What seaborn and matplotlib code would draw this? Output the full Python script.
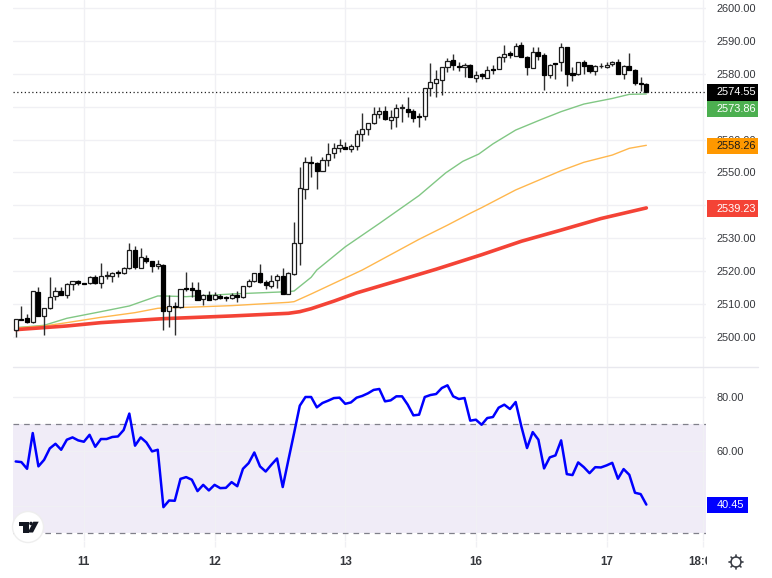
import math
import matplotlib
matplotlib.use("Agg")
import matplotlib.pyplot as plt
from matplotlib.patches import Rectangle, Circle, Polygon
import pandas as pd
import seaborn as sns

open_ = [2502.03,2505.57,2505.67,2504.46,2513.78,2506.49,2508.72,2512.46,2513.98,2512.87,
         2516.11,2516.92,2516.31,2516.31,2518.34,2516.31,2518.54,2518.64,2519.66,2519.35,
         2520.87,2526.44,2521.07,2524.11,2523.00,2521.48,2521.88,2508.00,2509.52,2509.02,
         2515.00,2514.90,2514.29,2511.45,2512.87,2511.45,2512.56,2512.16,2511.96,2512.77,
         2512.06,2515.50,2516.92,2519.35,2516.72,2515.60,2517.22,2518.64,2513.17,2519.15,
         2528.48,2544.89,2553.20,2552.99,2550.56,2553.80,2555.83,2557.45,2557.85,2557.14,
         2558.16,2561.60,2563.12,2564.95,2567.68,2568.59,2566.06,2566.97,2569.61,2569.40,
         2568.69,2567.18,2567.28,2575.60,2577.10,2578.11,2581.96,2584.19,2582.47,2581.96,
         2582.67,2578.62,2579.84,2578.83,2581.56,2581.46,2585.11,2586.42,2585.51,2588.75,
         2585.21,2581.87,2586.73,2585.61,2579.74,2583.28,2583.48,2588.14,2580.14,2579.94,
         2583.48,2582.57,2580.85,2582.27,2581.96,2582.98,2583.59,2580.04,2582.37,2581.26,
         2577.30,2576.90]
high = [2505.60,2509.42,2506.89,2513.90,2515.30,2508.85,2518.14,2515.10,2515.30,2516.31,
        2517.12,2517.33,2516.50,2518.54,2518.95,2522.59,2520.06,2519.86,2520.37,2521.38,
        2528.67,2527.66,2526.95,2524.82,2523.20,2523.40,2522.09,2512.77,2510.74,2514.60,
        2519.86,2516.62,2516.62,2513.07,2513.98,2513.78,2513.07,2512.46,2513.48,2514.08,
        2515.50,2517.53,2519.55,2522.19,2517.33,2518.95,2519.05,2520.87,2519.86,2535.06,
        2551.57,2554.80,2555.00,2553.30,2554.61,2558.87,2558.87,2560.08,2559.38,2558.57,
        2562.92,2567.99,2565.15,2570.01,2570.01,2570.21,2568.99,2570.82,2570.82,2572.85,
        2569.20,2567.99,2575.80,2583.18,2581.15,2582.17,2584.70,2585.91,2583.69,2583.18,
        2582.87,2580.95,2580.35,2582.37,2582.68,2585.51,2588.75,2586.93,2589.26,2589.56,
        2585.41,2588.25,2588.25,2586.42,2582.98,2583.38,2589.26,2588.25,2582.17,2583.69,
        2584.19,2582.68,2582.68,2583.38,2583.48,2583.89,2584.40,2582.68,2586.22,2581.36,
        2578.93,2577.10]
low = [2500.10,2505.17,2504.36,2504.40,2506.40,2500.61,2508.41,2511.25,2512.77,2511.96,
       2514.29,2515.80,2516.00,2516.11,2516.21,2514.79,2517.53,2516.82,2518.34,2519.15,
       2520.67,2520.67,2520.87,2522.39,2519.66,2520.57,2502.13,2502.94,2500.61,2508.82,
       2514.08,2512.06,2511.15,2509.63,2511.25,2511.25,2511.55,2511.05,2511.65,2510.74,
       2511.96,2515.30,2516.72,2516.52,2514.59,2514.79,2514.79,2513.07,2512.97,2518.85,
       2521.90,2541.85,2548.74,2545.09,2550.36,2551.98,2554.51,2556.33,2557.14,2556.33,
       2556.84,2559.68,2561.40,2564.64,2566.67,2565.96,2563.12,2563.73,2565.45,2566.77,
       2565.45,2563.73,2565.96,2573.25,2573.05,2573.55,2580.65,2581.15,2580.85,2578.93,
       2579.03,2577.61,2578.32,2578.62,2579.84,2581.36,2583.69,2584.90,2585.41,2585.11,
       2579.74,2581.66,2584.19,2575.08,2578.83,2578.52,2580.95,2576.29,2577.91,2579.74,
       2579.94,2580.35,2579.74,2581.76,2581.86,2582.47,2579.94,2578.52,2581.06,2576.60,
       2574.88,2574.50]
close = [2505.57,2505.27,2504.46,2513.88,2506.49,2508.82,2512.26,2513.98,2512.87,2516.11,
         2516.92,2516.52,2516.11,2518.34,2516.31,2518.64,2518.85,2519.35,2519.35,2520.87,
         2526.34,2521.17,2524.21,2523.00,2521.48,2522.09,2508.00,2509.32,2509.12,2514.59,
         2514.59,2514.39,2511.25,2512.77,2511.35,2512.67,2511.75,2511.86,2512.87,2512.06,
         2515.50,2516.92,2519.35,2516.62,2515.80,2517.12,2518.64,2513.17,2519.35,2528.47,
         2545.19,2553.30,2552.89,2550.56,2553.80,2555.52,2557.55,2558.46,2557.25,2558.16,
         2561.60,2563.12,2565.05,2567.68,2568.59,2566.36,2566.77,2569.71,2569.81,2568.49,
         2566.67,2566.97,2575.80,2577.41,2578.32,2582.07,2583.99,2582.67,2582.17,2582.67,
         2579.13,2579.74,2579.23,2581.16,2581.26,2585.21,2586.12,2585.82,2588.45,2585.21,
         2582.07,2586.73,2585.51,2579.74,2582.57,2582.98,2588.04,2580.04,2579.74,2583.48,
         2582.37,2580.75,2582.27,2582.47,2582.68,2583.59,2580.04,2582.37,2581.16,2577.10,
         2577.00,2574.55]

green_x = [0,5,9,15,20,25,26,30,38,48,49,52,53,58,64,71,75.7,78.7,81.5,84,88,92,96,100,105,108,111]
green_y = [2502.84,2503.55,2505.68,2507.70,2509.43,2512.47,2512.47,2512.26,2513.07,2513.78,2513.98,
           2518.14,2520.36,2527.40,2534.50,2543.00,2549.90,2553.40,2555.60,2558.70,2562.90,
           2565.75,2568.50,2570.80,2572.50,2573.75,2573.86]
orange_x = [0,5,9,15,21,25,26,30,38,48,49,52,61,71,76,80,82,88,96,100,105,108,111]
orange_y = [2502.74,2503.35,2504.36,2505.98,2507.40,2508.72,2508.82,2509.02,2509.53,2510.54,2510.74,
            2513.07,2520.36,2529.70,2534.00,2537.60,2539.30,2544.70,2550.55,2553.10,2555.30,
            2557.35,2558.26]
red_x = [0,9,15,25,26,38,48,50,52,56,60,68,74,82,89,96,103,111]
red_y = [2502.23,2503.35,2504.36,2505.47,2505.57,2506.39,2507.20,2507.70,2508.60,2510.90,2513.40,
         2517.50,2520.60,2525.00,2529.10,2532.50,2536.00,2539.23]

rsi = [56.3,56.07,53.6,66.75,54.5,56.9,61.1,62.8,60.6,64.3,65.15,64.05,63.55,66.1,61.7,64.55,
       64.55,65.3,65.5,67.85,73.9,62.1,65.15,63.3,60.0,60.6,39.5,41.95,41.85,49.9,50.55,49.6,
       45.4,47.7,45.65,47.7,46.5,46.6,48.7,47.2,53.6,55.7,59.6,54.5,52.6,55.1,57.4,46.9,56.9,
       66.75,76.8,80.0,80.0,76.2,77.8,78.65,79.6,79.75,77.5,78.0,79.75,80.4,81.35,82.6,82.95,
       78.4,78.77,80.25,80.25,77.18,73.25,73.5,80.0,80.73,81.1,83.3,84.3,80.25,79.26,79.63,
       71.3,71.65,69.8,72.27,72.64,76.07,77.18,75.58,78.16,69.2,61.23,67.1,64.3,53.74,57.8,
       58.53,64.05,51.65,51.3,55.95,54.2,52.0,54.2,54.1,54.85,55.8,49.95,53.5,51.4,44.8,44.3,40.45]

day_ticks = [12, 35, 58, 81, 104, 121]
day_labels = ["11", "12", "13", "16", "17", "18:00"]
price_ticks = [2500, 2510, 2520, 2530, 2540, 2550, 2560, 2570, 2580, 2590, 2600]
price_hidden = [2540, 2570]
rsi_ticks = [40, 60, 80]
rsi_hidden = [40]
rsi_bounds = [30, 70]
last_price, ma_green, ma_orange, ma_red, last_rsi = 2574.55, 2573.86, 2558.26, 2539.23, 40.45

W, H = 772, 578
FONT = "Liberation Sans"
TXT = "#35373c"
GRID = "#f0f0f4"
sns.set_theme(style="white", rc={"font.family": FONT})
fig = plt.figure(figsize=(W / 100, H / 100), dpi=100, facecolor="white")

def box(l, t, r, b):
    return [l / W, 1 - b / H, (r - l) / W, (b - t) / H]

ax = fig.add_axes(box(13, 0, 706, 367))
sub = fig.add_axes(box(13, 367, 706, 541), sharex=ax)
xlim = (-0.475, 121.5)

idx = list(range(len(open_)))
candles = pd.DataFrame({"i": idx, "open": open_, "high": high, "low": low, "close": close})
ax.vlines(candles["i"], candles["low"], candles["high"], color="#2e2e2e", lw=1.0, zorder=3)
up = candles[candles["close"] >= candles["open"]]
down = candles[candles["close"] < candles["open"]]
ax.bar(up["i"], (up["close"] - up["open"]).clip(lower=0.15), bottom=up["open"], width=0.72,
       color="white", edgecolor="#1c1c1c", linewidth=0.9, zorder=4)
ax.bar(down["i"], (down["open"] - down["close"]).clip(lower=0.15), bottom=down["close"], width=0.72,
       color="black", edgecolor="black", linewidth=0.9, zorder=4)

sns.lineplot(x=green_x, y=green_y, ax=ax, color="#81c784", lw=1.0, zorder=2, estimator=None)
sns.lineplot(x=orange_x, y=orange_y, ax=ax, color="#ffb74d", lw=1.0, zorder=2, estimator=None)
sns.lineplot(x=red_x, y=red_y, ax=ax, color="#f44336", lw=2.6, zorder=2, estimator=None)
ax.axhline(last_price, color="#222222", lw=0.9, ls=(0, (1, 2)), zorder=5)

ax.set_xlim(*xlim)
ax.set_ylim(2490.88, 2602.43)
ax.yaxis.tick_right()
ax.set_yticks(price_ticks)
ax.set_yticklabels(["" if v in price_hidden else f"{v:.2f}" for v in price_ticks])
ax.grid(True, color=GRID, lw=1.0)
ax.set_axisbelow(True)
ax.tick_params(axis="y", length=0, pad=7.7, labelsize=7.9, labelcolor=TXT)
ax.tick_params(axis="x", length=0, labelbottom=False)
ax.set_xticks(day_ticks)

sub.axhspan(rsi_bounds[0], rsi_bounds[1], color="#f0ecf7", lw=0, zorder=0)
for b in rsi_bounds:
    sub.axhline(b, color="#80808a", lw=0.9, ls=(0, (4.5, 4)), zorder=1)
sns.lineplot(x=idx, y=rsi, ax=sub, color="#0000ff", lw=1.8, zorder=3, estimator=None)
sub.set_xlim(*xlim)
sub.set_ylim(27.06, 91.03)
sub.yaxis.tick_right()
sub.set_yticks(rsi_ticks)
sub.set_yticklabels(["" if v in rsi_hidden else f"{v:.2f}" for v in rsi_ticks])
sub.grid(True, color=GRID, lw=1.0, zorder=0)
sub.set_axisbelow(True)
sub.set_xticks(day_ticks)
sub.set_xticklabels(day_labels)
sub.tick_params(axis="y", length=0, pad=7.7, labelsize=7.9, labelcolor=TXT)
sub.tick_params(axis="x", length=4.3, width=1.0, color=GRID, pad=6.2, labelsize=8.3, labelcolor=TXT,
                bottom=True)
for lab in sub.get_xticklabels():
    lab.set_fontweight("bold")
for a in (ax, sub):
    sns.despine(ax=a, left=True, right=True, top=True, bottom=True)
    a.set_xlabel("")
    a.set_ylabel("")
    a.patch.set_alpha(0)

# overlay in pixel coordinates: price boxes, logo, settings icon
ov = fig.add_axes([0, 0, 1, 1], zorder=10)
ov.set_xlim(0, W)
ov.set_ylim(H, 0)
ov.axis("off")
ov.patch.set_alpha(0)
ov.plot([13, 758], [367, 367], color="#e8e8ee", lw=1.0)
ov.add_patch(Rectangle((707, 0), 65, 4, color="white", lw=0))
ov.add_patch(Rectangle((707, 550), 30, 22, color="white", lw=0, zorder=1))

def price_y(v):
    return 8 + (2600 - v) * 3.29

def tag(text, cy, color, tcolor, right=758):
    ov.add_patch(Rectangle((707, cy - 8.2), right - 707, 16.4, facecolor=color, edgecolor="none", zorder=3))
    ov.text(716.7, cy, text, color=tcolor, fontsize=7.9, va="center", ha="left", zorder=4)

tag(f"{last_price:.2f}", price_y(last_price) + 0.6, "#000000", "white")
tag(f"{ma_green:.2f}", price_y(last_price) + 17.3, "#4caf50", "white")
tag(f"{ma_orange:.2f}", price_y(ma_orange) + 0.6, "#ff9800", "#1a1a1a")
tag(f"{ma_red:.2f}", price_y(ma_red) + 0.6, "#f44336", "white")
tag(f"{last_rsi:.2f}", 505, "#0000ff", "white", right=748)

ov.add_patch(Circle((28, 527), 15.5, facecolor="white", edgecolor="#eeeeee", lw=1.0, zorder=5))
ov.add_patch(Polygon([(18.5, 521.7), (29, 521.7), (29, 532.5), (23, 532.5), (23, 525.5), (18.5, 525.5)],
                     closed=True, facecolor="#131722", edgecolor="none", zorder=6))
ov.add_patch(Circle((31, 523.5), 1.8, facecolor="#131722", edgecolor="none", zorder=6))
ov.add_patch(Polygon([(33.3, 521.7), (38.7, 521.7), (33, 532.5), (27.8, 532.5)],
                     closed=True, facecolor="#131722", edgecolor="none", zorder=6))

ov.add_patch(Circle((736, 562), 5.0, facecolor="white", edgecolor="#3a3d45", lw=1.1, zorder=5))
for k in range(8):
    a = k * math.pi / 4
    ov.plot([736 + 5.2 * math.cos(a), 736 + 7.0 * math.cos(a)],
            [562 + 5.2 * math.sin(a), 562 + 7.0 * math.sin(a)],
            color="#3a3d45", lw=1.2, zorder=5, solid_capstyle="round")

fig.savefig("out.png", dpi=100)
